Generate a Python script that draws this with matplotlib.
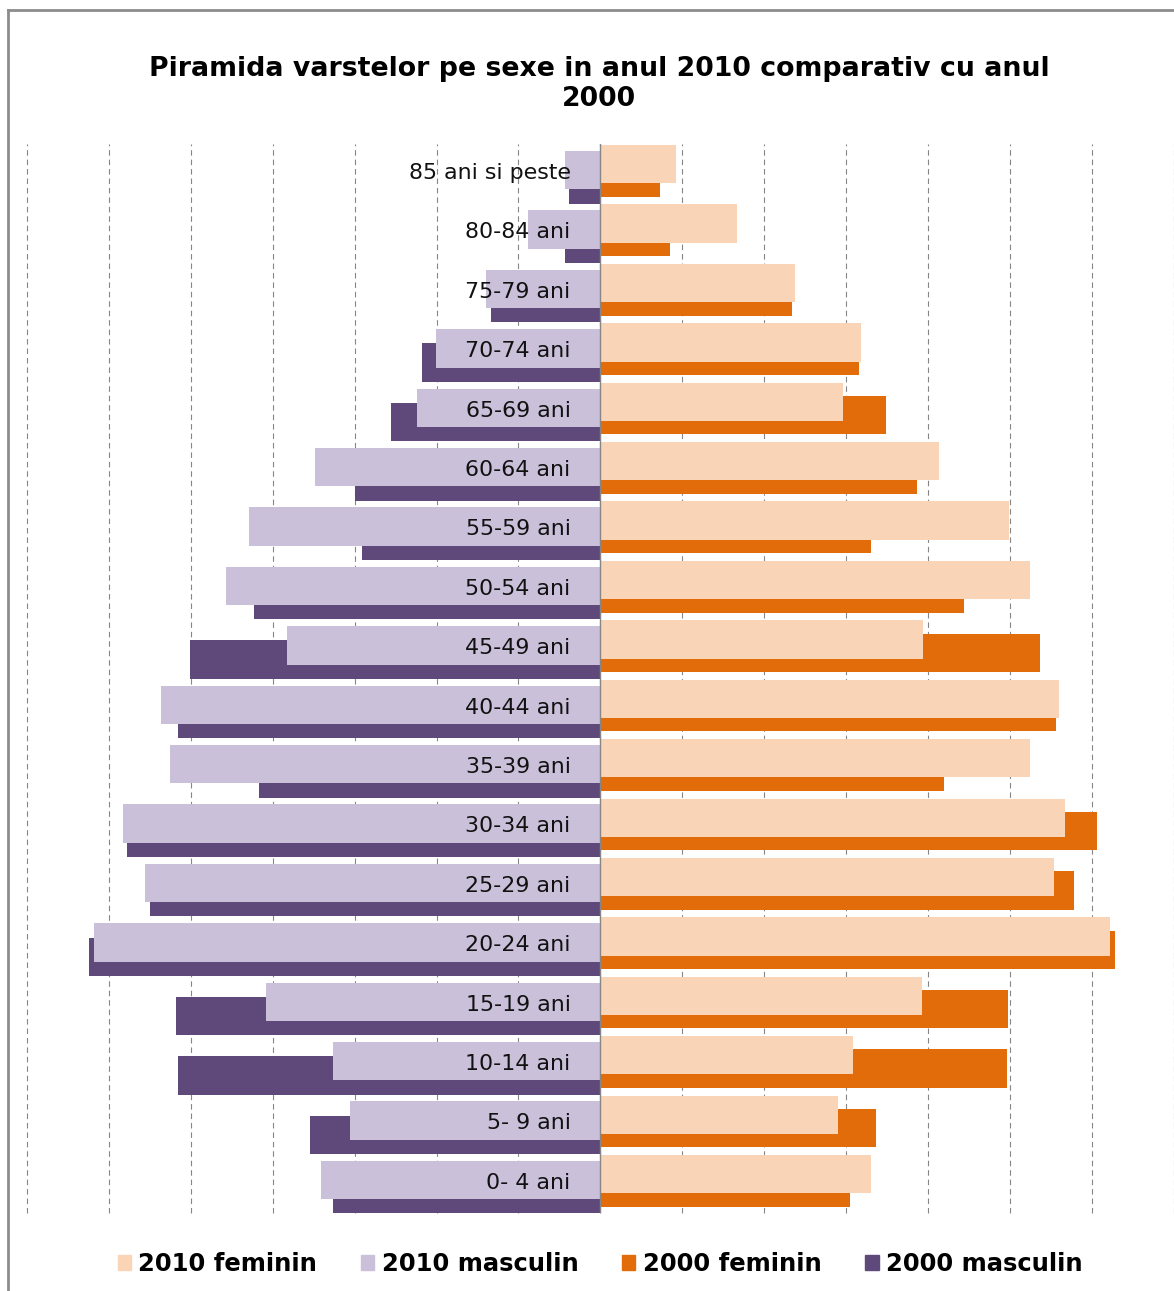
import numpy as np
import matplotlib
matplotlib.use('Agg')
import matplotlib.pyplot as plt
from matplotlib.patches import Patch
from matplotlib.lines import Line2D

# grupe de varsta, de jos in sus
varste = ['0- 4 ani', '5- 9 ani', '10-14 ani', '15-19 ani', '20-24 ani', '25-29 ani',
          '30-34 ani', '35-39 ani', '40-44 ani', '45-49 ani', '50-54 ani', '55-59 ani',
          '60-64 ani', '65-69 ani', '70-74 ani', '75-79 ani', '80-84 ani', '85 ani si peste']

fem_2010 = [3300, 2900, 3080, 3920, 6220, 5540, 5670, 5240, 5590, 3940,
            5240, 4990, 4130, 2960, 3180, 2370, 1670, 920]
masc_2010 = [3410, 3050, 3260, 4080, 6180, 5560, 5830, 5250, 5360, 3820,
             4570, 4290, 3480, 2240, 2010, 1400, 880, 430]
fem_2000 = [3050, 3360, 4960, 4970, 6280, 5780, 6060, 4190, 5560, 5360,
            4440, 3300, 3860, 3490, 3150, 2340, 850, 730]
masc_2000 = [3260, 3540, 5160, 5180, 6240, 5500, 5780, 4160, 5160, 5010,
             4230, 2910, 2990, 2550, 2180, 1330, 430, 380]

c_fem10 = '#FAD4B6'
c_masc10 = '#CAC0DA'
c_fem00 = '#E36C0A'
c_masc00 = '#5F497A'

W, H = 1174, 1291
fig = plt.figure(figsize=(W / 100, H / 100), dpi=100)
ax = fig.add_axes([26.75 / W, 77.7 / H, 1147.3 / W, 1069.3 / H])

y = np.arange(len(varste))
h = 0.645

# 2000 in spate, 2010 in fata
ax.barh(y - 0.18, [-v for v in masc_2000], height=h, color=c_masc00, zorder=2)
ax.barh(y - 0.065, fem_2000, height=h, color=c_fem00, zorder=2)
ax.barh(y + 0.06, [-v for v in masc_2010], height=h, color=c_masc10, zorder=3)
ax.barh(y + 0.16, fem_2010, height=h, color=c_fem10, zorder=3)

ax.axvline(0, color='#868686', lw=1, zorder=4)

for i, lab in enumerate(varste):
    ax.annotate(lab, xy=(0, i), xytext=(-21.5, 0.5), textcoords='offset points',
                ha='right', va='center', fontsize=15.9, color='#111111', zorder=5)

ax.set_xlim(-7000, 7000)
ax.set_ylim(-0.5, len(varste) - 0.5)
ax.set_xticks(range(-7000, 7001, 1000))
ax.set_yticks([])
ax.tick_params(length=0, labelbottom=False)
ax.grid(axis='x', color='#868686', lw=0.8, linestyle=(0, (5, 3.5)))
ax.set_axisbelow(True)
for gl in ax.get_xgridlines():
    gl.set_clip_on(False)
for s in ax.spines.values():
    s.set_visible(False)

# chenar
fig.add_artist(Line2D([8 / W, 8 / W], [0, 1 - 10 / H], transform=fig.transFigure,
                      color='#8c8c8c', lw=2))
fig.add_artist(Line2D([8 / W, 1], [1 - 10 / H, 1 - 10 / H], transform=fig.transFigure,
                      color='#8c8c8c', lw=2))

fig.text(599 / W, 1 - 83.5 / H,
         'Piramida varstelor pe sexe in anul 2010 comparativ cu anul\n2000',
         ha='center', va='center', fontsize=19.3, fontweight='bold',
         family='DejaVu Sans', linespacing=1.2)

handles = [Patch(color=c_fem10), Patch(color=c_masc10), Patch(color=c_fem00), Patch(color=c_masc00)]
labels = ['2010 feminin', '2010 masculin', '2000 feminin', '2000 masculin']
fig.legend(handles, labels, loc='center', bbox_to_anchor=(600 / W, 1 - 1264 / H), ncol=4,
           frameon=False, prop=dict(family='DejaVu Sans', weight='bold', size=17.5),
           handlelength=0.55, handleheight=0.55, handletextpad=0.3, columnspacing=1.8)

fig.savefig('out.png', dpi=100)
